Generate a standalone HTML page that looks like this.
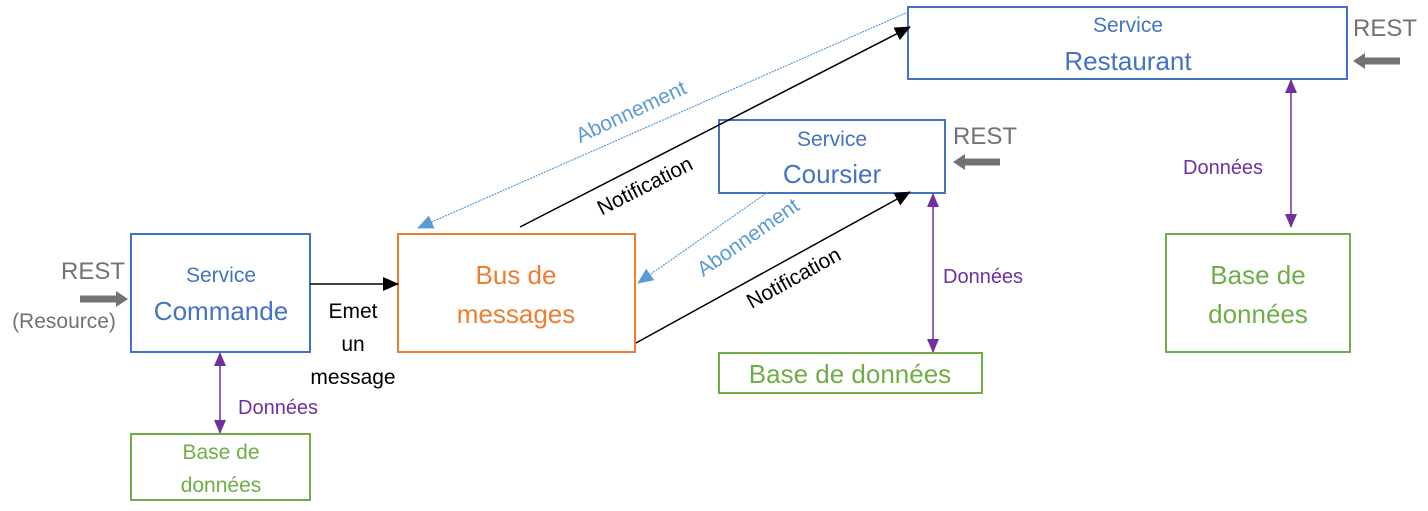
<!DOCTYPE html>
<html><head><meta charset="utf-8"><style>
html,body{margin:0;padding:0;background:#fff;}
svg{display:block;font-family:"Liberation Sans",sans-serif;}
</style></head><body>
<svg width="1428" height="511" viewBox="0 0 1428 511" xmlns="http://www.w3.org/2000/svg">
<defs>
<marker id="ab2" markerWidth="16" markerHeight="14" refX="15" refY="7" orient="auto" markerUnits="userSpaceOnUse"><path d="M0,0 L16,7 L0,14 z" fill="#000"/></marker>
<marker id="abl" markerWidth="16" markerHeight="14" refX="15" refY="7" orient="auto" markerUnits="userSpaceOnUse"><path d="M0,0 L16,7 L0,14 z" fill="#5b9bd5"/></marker>
<marker id="ap" markerWidth="14" markerHeight="12" refX="13" refY="6" orient="auto-start-reverse" markerUnits="userSpaceOnUse"><path d="M0,0 L14,6 L0,12 z" fill="#7030a0"/></marker>
<marker id="ag" markerWidth="12" markerHeight="16" refX="2" refY="8" orient="auto" markerUnits="userSpaceOnUse"><path d="M0,0 L12,8 L0,16 z" fill="#767171"/></marker>
</defs>
<g fill="none" stroke-width="2">
<rect x="131" y="234" width="179" height="118" stroke="#4472c4"/>
<rect x="398" y="234" width="237" height="118" stroke="#ed7d31"/>
<rect x="719" y="120" width="226" height="73" stroke="#4472c4"/>
<rect x="908" y="7" width="439" height="72" stroke="#4472c4"/>
<rect x="131" y="434" width="179" height="66" stroke="#70ad47"/>
<rect x="719" y="353" width="263" height="40" stroke="#70ad47"/>
<rect x="1166" y="234" width="184" height="118" stroke="#70ad47"/>
</g>
<g stroke="#767171" stroke-width="7">
<line x1="80" y1="299" x2="118" y2="299" marker-end="url(#ag)"/>
<line x1="1000" y1="162" x2="963" y2="162" marker-end="url(#ag)"/>
<line x1="1400" y1="61" x2="1363" y2="61" marker-end="url(#ag)"/>
</g>
<g stroke="#000" stroke-width="1.5">
<line x1="310" y1="284" x2="398" y2="284" marker-end="url(#ab2)"/>
<line x1="520" y1="227" x2="910" y2="27" marker-end="url(#ab2)"/>
<line x1="636" y1="343" x2="910" y2="192" marker-end="url(#ab2)"/>
</g>
<g stroke="#5b9bd5" stroke-width="1.2" stroke-dasharray="2,1">
<line x1="908" y1="12" x2="418" y2="228" marker-end="url(#abl)"/>
<line x1="768" y1="192" x2="638" y2="283" marker-end="url(#abl)"/>
</g>
<g stroke="#7030a0" stroke-width="1.5">
<line x1="220" y1="353" x2="220" y2="433" marker-start="url(#ap)" marker-end="url(#ap)"/>
<line x1="933" y1="194" x2="933" y2="352" marker-start="url(#ap)" marker-end="url(#ap)"/>
<line x1="1291" y1="80" x2="1291" y2="227" marker-start="url(#ap)" marker-end="url(#ap)"/>
</g>
<g text-anchor="middle">
<text x="221" y="282" font-size="21" fill="#4472c4">Service</text>
<text x="221" y="320" font-size="26" fill="#4472c4">Commande</text>
<text x="516" y="284" font-size="26" fill="#ed7d31">Bus de</text>
<text x="516" y="323" font-size="26" fill="#ed7d31">messages</text>
<text x="832" y="146" font-size="21" fill="#4472c4">Service</text>
<text x="832" y="183" font-size="26" fill="#4472c4">Coursier</text>
<text x="1128" y="32" font-size="21" fill="#4472c4">Service</text>
<text x="1128" y="70" font-size="26" fill="#4472c4">Restaurant</text>
<text x="221" y="459" font-size="21" fill="#70ad47">Base de</text>
<text x="221" y="492" font-size="21" fill="#70ad47">données</text>
<text x="850" y="383" font-size="26" fill="#70ad47">Base de données</text>
<text x="1258" y="284" font-size="26" fill="#70ad47">Base de</text>
<text x="1258" y="323" font-size="26" fill="#70ad47">données</text>
<text x="353" y="318" font-size="21" fill="#000">Emet</text>
<text x="353" y="351" font-size="21" fill="#000">un</text>
<text x="353" y="384" font-size="21" fill="#000">message</text>
<text x="93" y="279" font-size="24" fill="#767171">REST</text>
<text x="64" y="328" font-size="21" fill="#767171">(Resource)</text>
<text x="985" y="144" font-size="24" fill="#767171">REST</text>
<text x="1385" y="36" font-size="24" fill="#767171">REST</text>
</g>
<g font-size="20" fill="#7030a0">
<text x="238" y="414">Données</text>
<text x="943" y="283">Données</text>
<text x="1183" y="174">Données</text>
</g>
<text transform="translate(634,118) rotate(-25)" text-anchor="middle" font-size="21" fill="#5b9bd5">Abonnement</text>
<text transform="translate(752,243) rotate(-35)" text-anchor="middle" font-size="21" fill="#5b9bd5">Abonnement</text>
<text transform="translate(648,192) rotate(-27)" text-anchor="middle" font-size="21" fill="#000">Notification</text>
<text transform="translate(797,284) rotate(-29)" text-anchor="middle" font-size="21" fill="#000">Notification</text>
</svg>
</body></html>
